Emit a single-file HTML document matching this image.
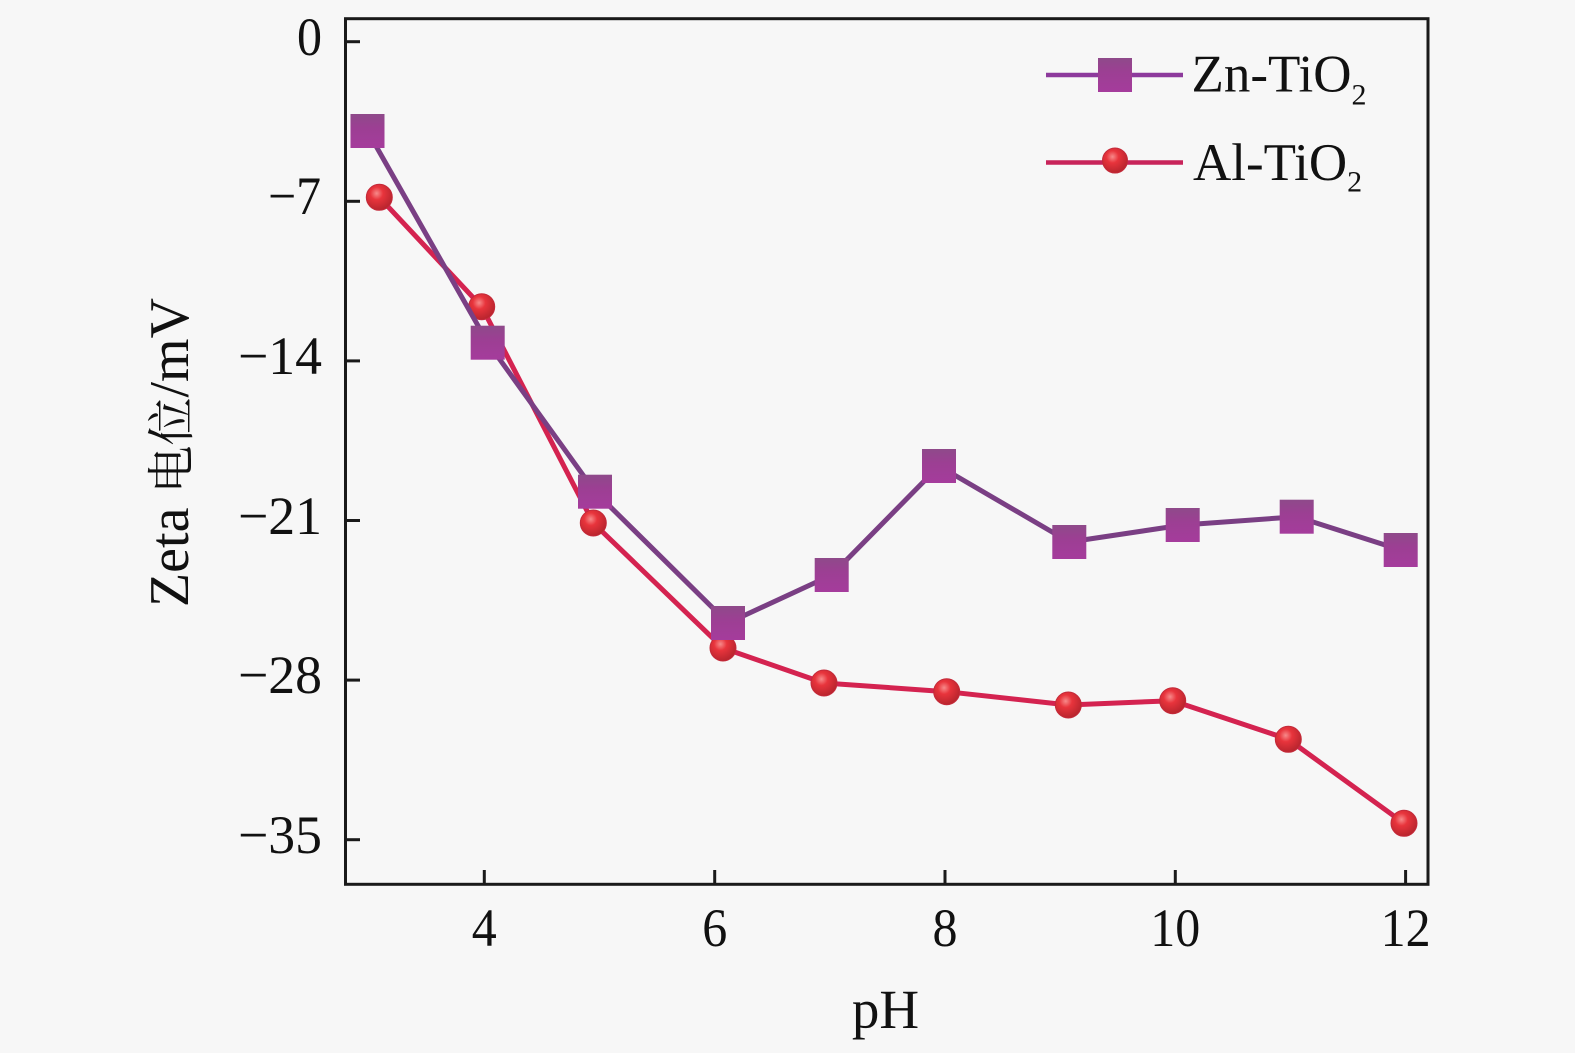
<!DOCTYPE html>
<html><head><meta charset="utf-8"><style>
html,body{margin:0;padding:0;background:#f7f7f7;}
svg{display:block;}
text{font-family:"Liberation Serif","Noto Serif CJK SC",serif;fill:#111;}
</style></head><body>
<svg width="1575" height="1053" viewBox="0 0 1575 1053" xmlns="http://www.w3.org/2000/svg" font-family="Liberation Serif, Noto Serif CJK SC, serif">
<defs>
<radialGradient id="sph" cx="0.4" cy="0.35" r="0.7">
<stop offset="0" stop-color="#f78a8a"/>
<stop offset="0.35" stop-color="#e8343c"/>
<stop offset="1" stop-color="#b3232c"/>
</radialGradient>
<linearGradient id="sq" x1="0" y1="0" x2="0" y2="1">
<stop offset="0" stop-color="#8e4a8a"/>
<stop offset="0.4" stop-color="#9c3f93"/>
<stop offset="1" stop-color="#a53c9c"/>
</linearGradient>
</defs>
<rect x="0" y="0" width="1575" height="1053" fill="#f7f7f7"/>

<!-- Al series -->
<polyline fill="none" stroke="#d42350" stroke-width="5" stroke-linejoin="round"
points="379.3,197.3 481.7,306.7 593.3,523 723,648 824,683 946.7,691.7 1068.3,705 1172.7,700.7 1288.3,739.3 1404,823.3"/>
<g fill="url(#sph)" stroke="#c42a3a" stroke-width="1">
<circle cx="379.3" cy="197.3" r="13"/>
<circle cx="481.7" cy="306.7" r="13"/>
<circle cx="593.3" cy="523" r="13"/>
<circle cx="723" cy="648" r="13"/>
<circle cx="824" cy="683" r="13"/>
<circle cx="946.7" cy="691.7" r="13"/>
<circle cx="1068.3" cy="705" r="13"/>
<circle cx="1172.7" cy="700.7" r="13"/>
<circle cx="1288.3" cy="739.3" r="13"/>
<circle cx="1404" cy="823.3" r="13"/>
</g>

<!-- Zn series -->
<polyline fill="none" stroke="#7a3f84" stroke-width="5" stroke-linejoin="round"
points="367.5,131 487.7,342.7 595,491.7 728,623 831.7,575 939,466 1069.3,542 1182.7,525 1296.7,516.7 1400.7,550"/>
<g fill="url(#sq)">
<rect x="350.5" y="114" width="34" height="34"/>
<rect x="470.7" y="325.7" width="34" height="34"/>
<rect x="578" y="474.7" width="34" height="34"/>
<rect x="711" y="606" width="34" height="34"/>
<rect x="814.7" y="558" width="34" height="34"/>
<rect x="922" y="449" width="34" height="34"/>
<rect x="1052.3" y="525" width="34" height="34"/>
<rect x="1165.7" y="508" width="34" height="34"/>
<rect x="1279.7" y="499.7" width="34" height="34"/>
<rect x="1383.7" y="533" width="34" height="34"/>
</g>

<!-- frame -->
<rect x="345.5" y="18.7" width="1082.5" height="865.6" fill="none" stroke="#1a1a1a" stroke-width="3"/>
<!-- ticks -->
<g stroke="#1a1a1a" stroke-width="3">
<line x1="345" y1="41.7" x2="360" y2="41.7"/>
<line x1="345" y1="201.3" x2="360" y2="201.3"/>
<line x1="345" y1="360.9" x2="360" y2="360.9"/>
<line x1="345" y1="520.5" x2="360" y2="520.5"/>
<line x1="345" y1="680.1" x2="360" y2="680.1"/>
<line x1="345" y1="839.7" x2="360" y2="839.7"/>
<line x1="484.3" y1="884" x2="484.3" y2="870"/>
<line x1="714.7" y1="884" x2="714.7" y2="870"/>
<line x1="945" y1="884" x2="945" y2="870"/>
<line x1="1175.3" y1="884" x2="1175.3" y2="870"/>
<line x1="1405.6" y1="884" x2="1405.6" y2="870"/>
</g>

<!-- y tick labels -->
<g font-size="54" text-anchor="end" font-family="Liberation Serif, serif">
<text x="322" y="55" textLength="25" lengthAdjust="spacingAndGlyphs">0</text>
<text x="321" y="214" textLength="53" lengthAdjust="spacingAndGlyphs">−7</text>
<text x="322" y="374" textLength="84" lengthAdjust="spacingAndGlyphs">−14</text>
<text x="322" y="534" textLength="84" lengthAdjust="spacingAndGlyphs">−21</text>
<text x="322" y="693" textLength="84" lengthAdjust="spacingAndGlyphs">−28</text>
<text x="322" y="853" textLength="84" lengthAdjust="spacingAndGlyphs">−35</text>
</g>
<!-- x tick labels -->
<g font-size="54" text-anchor="middle" font-family="Liberation Serif, serif">
<text x="484.3" y="946" textLength="25" lengthAdjust="spacingAndGlyphs">4</text>
<text x="714.7" y="946" textLength="25" lengthAdjust="spacingAndGlyphs">6</text>
<text x="945" y="946" textLength="25" lengthAdjust="spacingAndGlyphs">8</text>
<text x="1175.3" y="946" textLength="50" lengthAdjust="spacingAndGlyphs">10</text>
<text x="1405.6" y="946" textLength="50" lengthAdjust="spacingAndGlyphs">12</text>
</g>

<!-- axis labels -->
<text x="885.5" y="1028" font-size="55" text-anchor="middle" font-family="Liberation Serif, serif">pH</text>
<g transform="translate(188,452.5) rotate(-90)">
<text x="0" y="0" text-anchor="middle" font-size="56" font-family="Liberation Serif, Noto Serif CJK SC, serif">Zeta <tspan font-size="48" font-family="Noto Serif CJK SC, serif">电位</tspan>/mV</text>
</g>

<!-- legend -->
<line x1="1046" y1="75" x2="1183" y2="75" stroke="#8d3a9c" stroke-width="4.5"/>
<rect x="1098" y="58" width="34" height="34" fill="url(#sq)"/>
<text x="1191.5" y="91.7" font-size="53" font-family="Liberation Serif, serif">Zn-TiO<tspan font-size="30" dy="13">2</tspan></text>
<line x1="1046" y1="162.5" x2="1183" y2="162.5" stroke="#c8245a" stroke-width="4.5"/>
<circle cx="1115" cy="160.5" r="12.5" fill="url(#sph)" stroke="#c42a3a" stroke-width="1"/>
<text x="1193" y="180" font-size="53" font-family="Liberation Serif, serif">Al-TiO<tspan font-size="30" dy="11.5">2</tspan></text>
</svg>
</body></html>
